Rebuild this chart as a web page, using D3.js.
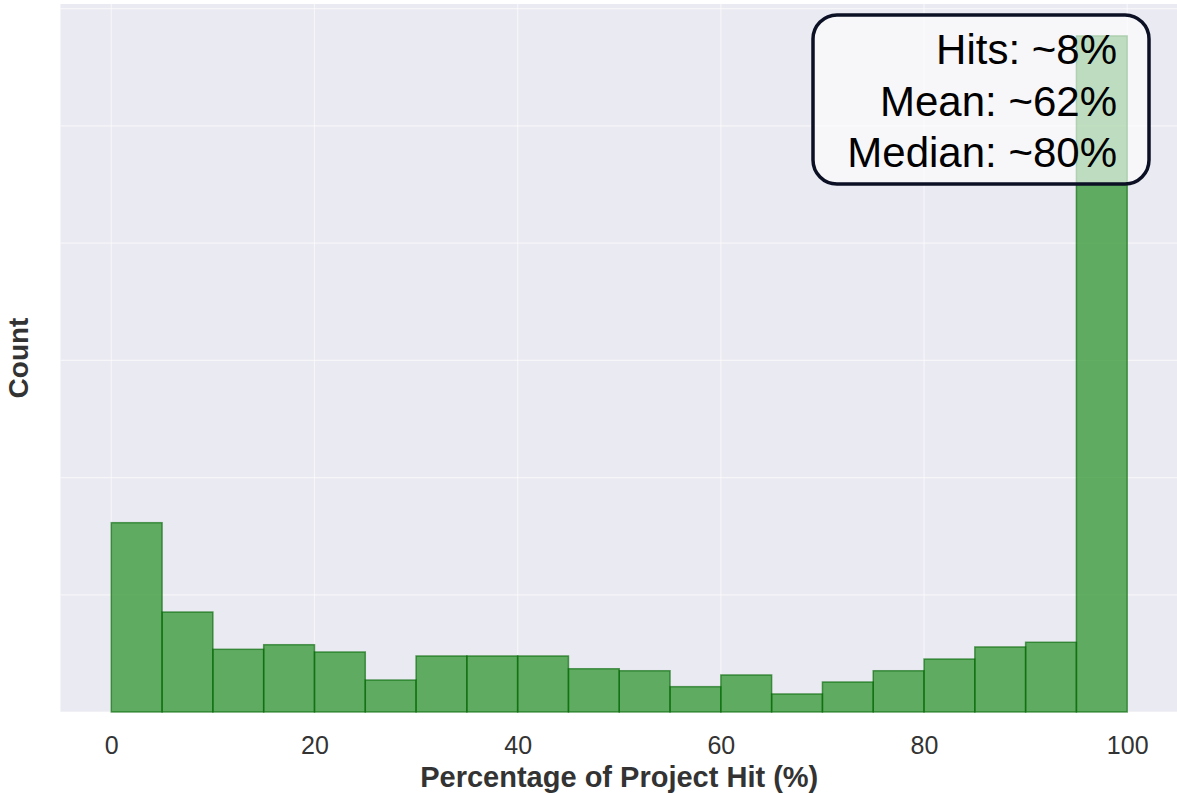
<!DOCTYPE html>
<html>
<head>
<meta charset="utf-8">
<script src="https://cdn.jsdelivr.net/npm/d3@7"></script>
<style>
  html, body { margin: 0; padding: 0; background: #ffffff; }
  svg { display: block; }
</style>
</head>
<body>
<svg id="chart" width="1177" height="793"></svg>
<script>
// Histogram bin edges (percent) and counts (estimated, relative units)
const binStarts = [0, 5, 10, 15, 20, 25, 30, 35, 40, 45, 50, 55, 60, 65, 70, 75, 80, 85, 90, 95];
const binWidth = 5;
const counts = [161.5, 85.3, 53.5, 57.4, 51.2, 27.3, 47.8, 47.8, 47.8, 36.9, 35.2, 21.6, 31.6, 15.4, 25.6, 35.2, 45.2, 55.5, 59.5, 576.8];
const xTicks = [0, 20, 40, 60, 80, 100];
const yGridTicks = [0, 100, 200, 300, 400, 500, 600];
const statLines = ["Hits: ~8%", "Mean: ~62%", "Median: ~80%"];
const xLabel = "Percentage of Project Hit (%)";
const yLabel = "Count";

const svg = d3.select("#chart");
const plot = { left: 60.5, right: 1178, top: 4, bottom: 712 };
const font = "'Liberation Sans', Arial, Helvetica, sans-serif";

const x = d3.scaleLinear().domain([-5, 105]).range([plot.left, plot.right]);
const y = d3.scaleLinear().domain([0, 604]).range([plot.bottom, plot.top]);

// background
svg.append("rect")
  .attr("x", plot.left).attr("y", plot.top)
  .attr("width", plot.right - plot.left).attr("height", plot.bottom - plot.top)
  .attr("fill", "#EAEAF2");

// grid
const grid = svg.append("g");
grid.selectAll("line.v").data(xTicks).enter().append("line")
  .attr("x1", d => x(d)).attr("x2", d => x(d))
  .attr("y1", plot.top).attr("y2", plot.bottom)
  .attr("stroke", "#ffffff").attr("stroke-opacity", 0.55).attr("stroke-width", 1.2);
grid.selectAll("line.h").data(yGridTicks).enter().append("line")
  .attr("x1", plot.left).attr("x2", plot.right)
  .attr("y1", d => y(d)).attr("y2", d => y(d))
  .attr("stroke", "#ffffff").attr("stroke-opacity", 0.55).attr("stroke-width", 1.2);

// bars
svg.append("g").selectAll("rect").data(binStarts).enter().append("rect")
  .attr("x", d => x(d))
  .attr("y", (d, i) => y(counts[i]))
  .attr("width", d => x(d + binWidth) - x(d))
  .attr("height", (d, i) => y(0) - y(counts[i]))
  .attr("fill", "#008000").attr("fill-opacity", 0.6)
  .attr("stroke", "#006400").attr("stroke-opacity", 0.6).attr("stroke-width", 1.5);

// x axis tick labels
const xAxis = d3.axisBottom(x).tickValues(xTicks).tickSize(0).tickPadding(0).tickFormat(d3.format("d"));
const gx = svg.append("g").attr("transform", `translate(0, ${plot.bottom})`).call(xAxis);
gx.select(".domain").remove();
gx.selectAll("text")
  .attr("y", 0).attr("dy", 0)
  .attr("transform", "translate(0, 42)")
  .attr("font-family", font)
  .attr("font-size", 25).attr("fill", "#333333");

// axis labels
svg.append("text")
  .attr("x", (plot.left + plot.right) / 2).attr("y", 787)
  .attr("text-anchor", "middle")
  .attr("font-family", font)
  .attr("font-size", 29).attr("font-weight", "bold").attr("fill", "#333333")
  .text(xLabel);

svg.append("text")
  .attr("transform", `translate(28, ${(plot.top + plot.bottom) / 2}) rotate(-90)`)
  .attr("text-anchor", "middle")
  .attr("font-family", font)
  .attr("font-size", 28).attr("font-weight", "bold").attr("fill", "#333333")
  .text(yLabel);

// stats box
const box = { x: 813, y: 15, w: 336, h: 169 };
svg.append("rect")
  .attr("x", box.x).attr("y", box.y).attr("width", box.w).attr("height", box.h)
  .attr("rx", 24).attr("ry", 24)
  .attr("fill", "#ffffff").attr("fill-opacity", 0.6)
  .attr("stroke", "#0b1024").attr("stroke-width", 3.5);

svg.append("g").selectAll("text").data(statLines).enter().append("text")
  .attr("x", 1117)
  .attr("y", (d, i) => 64 + i * 51.5)
  .attr("text-anchor", "end")
  .attr("font-family", font)
  .attr("font-size", 42).attr("fill", "#000000")
  .text(d => d);
</script>
</body>
</html>
